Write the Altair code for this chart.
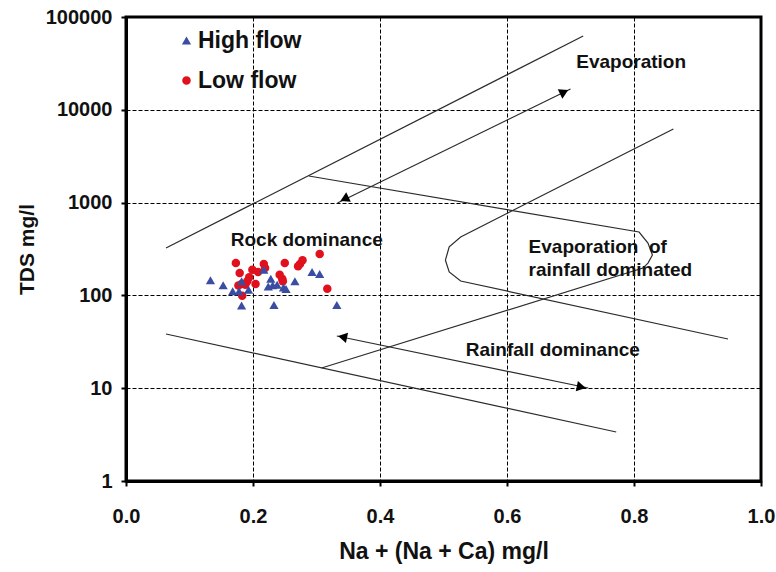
import math
import altair as alt
import pandas as pd

# ---------------- data ----------------
# High flow samples (blue triangles)
high_x = [0.133, 0.153, 0.168, 0.182, 0.178, 0.193, 0.182, 0.217, 0.228, 0.224,
          0.231, 0.238, 0.248, 0.252, 0.266, 0.293, 0.305, 0.233, 0.332]
high_y = [146, 128.5, 111, 142, 111, 115, 78, 189, 151, 125,
          128.5, 130, 122, 117, 142, 179, 170, 79, 79]

# Low flow samples (red circles)
low_x = [0.173, 0.179, 0.199, 0.194, 0.191, 0.182, 0.188, 0.204, 0.183, 0.217,
         0.219, 0.208, 0.250, 0.242, 0.246, 0.247, 0.274, 0.278, 0.271, 0.305,
         0.317, 0.177]
low_y = [223, 174, 189, 157, 142, 133, 130, 133, 99, 218,
         197, 179, 223, 167, 151, 142, 218, 239, 206, 279,
         118, 128]

# Gibbs boundary curves
outer_upper_x = [0.063, 0.720]
outer_upper_y = [324, 62400]
outer_lower_x = [0.063, 0.772]
outer_lower_y = [38.4, 3.37]
curve1_x = [0.862, 0.527, 0.509, 0.503, 0.509, 0.527, 0.948]
curve1_y = [6210, 426, 333, 240, 179, 143, 33.9]
curve2_x = [0.288, 0.808, 0.822, 0.829, 0.822, 0.814, 0.308]
curve2_y = [1936, 482, 367, 272, 223, 197, 16.5]

# double-headed arrows
arrow1_x = [0.333, 0.700]
arrow1_y = [991, 16750]
arrow2_x = [0.332, 0.728]
arrow2_y = [36.5, 10.05]
head_x = [0.344, 0.690, 0.341, 0.717]
head_y = [1094, 15560, 35.6, 10.3]

# annotations
label_text = ["Evaporation", "Rock dominance", "Evaporation\u00a0 of",
              "rainfall dominated", "Rainfall dominance"]
label_x = [0.709, 0.165, 0.634, 0.634, 0.535]
label_y = [32700, 395, 333, 188, 25.8]

x_ticks = [0.0, 0.2, 0.4, 0.6, 0.8, 1.0]
y_ticks = [1, 10, 100, 1000, 10000, 100000]

# ---------------- layout ----------------
W, H = 635, 464
FONT = "Liberation Sans"
LINE_COLOR = "#2b2b2b"


def head_angle(x0, y0, x1, y1):
    dx = (x1 - x0) * W
    dy = -(math.log10(y1) - math.log10(y0)) / 5 * H
    return math.degrees(math.atan2(dx, -dy)) % 360


a1 = head_angle(arrow1_x[0], arrow1_y[0], arrow1_x[1], arrow1_y[1])
a2 = head_angle(arrow2_x[0], arrow2_y[0], arrow2_x[1], arrow2_y[1])
head_angle_list = [(a1 + 180) % 360, a1, (a2 + 180) % 360, a2]

rows = []
for name, xs, ys in [("outer_upper", outer_upper_x, outer_upper_y),
                     ("outer_lower", outer_lower_x, outer_lower_y),
                     ("curve1", curve1_x, curve1_y),
                     ("curve2", curve2_x, curve2_y),
                     ("arrow1", arrow1_x, arrow1_y),
                     ("arrow2", arrow2_x, arrow2_y)]:
    for i, (xv, yv) in enumerate(zip(xs, ys)):
        rows.append({"curve": name, "order": i, "x": xv, "y": yv})
lines_df = pd.DataFrame(rows)

heads_df = pd.DataFrame({"x": head_x, "y": head_y, "angle": head_angle_list})

pts_df = pd.DataFrame(
    [{"x": a, "y": b, "flow": "Low flow"} for a, b in zip(low_x, low_y)]
    + [{"x": a, "y": b, "flow": "High flow"} for a, b in zip(high_x, high_y)]
)
pts_df["idx"] = range(len(pts_df))

labels_df = pd.DataFrame({"x": label_x, "y": label_y, "text": label_text})

x_enc = alt.X(
    "x:Q",
    scale=alt.Scale(domain=[0, 1], nice=False, zero=False),
    axis=alt.Axis(
        values=x_ticks, format=".1f", title="Na + (Na + Ca) mg/l",
        titleY=70, titleBaseline="middle", titleFontSize=23,
        labelBaseline="middle", labelPadding=30, labelFlush=False,
    ),
)
y_enc = alt.Y(
    "y:Q",
    scale=alt.Scale(type="log", domain=[1, 100000], nice=False),
    axis=alt.Axis(
        values=y_ticks, format="d", title="TDS mg/l",
        titleX=-99, titleY=H / 2, titleAngle=-90, titleBaseline="middle",
        titleAlign="center", labelPadding=9, labelFlush=False,
    ),
)

legend_cfg = dict(
    title=None, orient="none", legendX=49, legendY=12,
    labelFont=FONT, labelFontSize=23, labelFontWeight="bold",
    labelColor="#111111", symbolSize=45, rowPadding=16, labelOffset=0,
    padding=0, symbolStrokeWidth=0,
)

lines = alt.Chart(lines_df).mark_line(color=LINE_COLOR, strokeWidth=1.2).encode(
    x=x_enc, y=y_enc, detail="curve:N", order="order:Q"
)

heads = alt.Chart(heads_df).mark_point(
    shape="triangle-up", filled=True, color="#000000", size=110, opacity=1
).encode(x=x_enc, y=y_enc, angle=alt.Angle("angle:Q", scale=None))

points = alt.Chart(pts_df).mark_point(filled=True, opacity=1).encode(
    x=x_enc,
    y=y_enc,
    order=alt.Order("idx:Q"),
    size=alt.Size(
        "flow:N",
        scale=alt.Scale(domain=["High flow", "Low flow"], range=[85, 72]),
        legend=None,
    ),
    color=alt.Color(
        "flow:N",
        scale=alt.Scale(domain=["High flow", "Low flow"], range=["#3A4DA3", "#E0101C"]),
        legend=alt.Legend(**legend_cfg),
    ),
    shape=alt.Shape(
        "flow:N",
        scale=alt.Scale(domain=["High flow", "Low flow"], range=["triangle-up", "circle"]),
        legend=alt.Legend(**legend_cfg),
    ),
)

texts = alt.Chart(labels_df).mark_text(
    align="left", baseline="middle", font=FONT, fontSize=19,
    fontWeight="bold", color="#111111"
).encode(x=x_enc, y=y_enc, text="text:N")

chart = (
    alt.layer(lines, heads, points, texts)
    .properties(
        width=W, height=H,
        autosize=alt.AutoSizeParams(type="none"),
        padding={"left": 126, "top": 17, "right": 15, "bottom": 91},
        background="white",
    )
    .configure_view(stroke="#000000", strokeWidth=3)
    .configure_axis(
        labelFont=FONT, labelFontSize=20, labelFontWeight="bold", labelColor="#111111",
        titleFont=FONT, titleFontSize=21, titleFontWeight="bold", titleColor="#111111",
        domainColor="#000000", domainWidth=3,
        tickColor="#000000", tickWidth=2, tickSize=5,
        gridColor="#000000", gridDash=[4, 2], gridWidth=1, gridOpacity=1,
    )
)

chart.save("out.html", embed_options={"renderer": "svg", "actions": False})
